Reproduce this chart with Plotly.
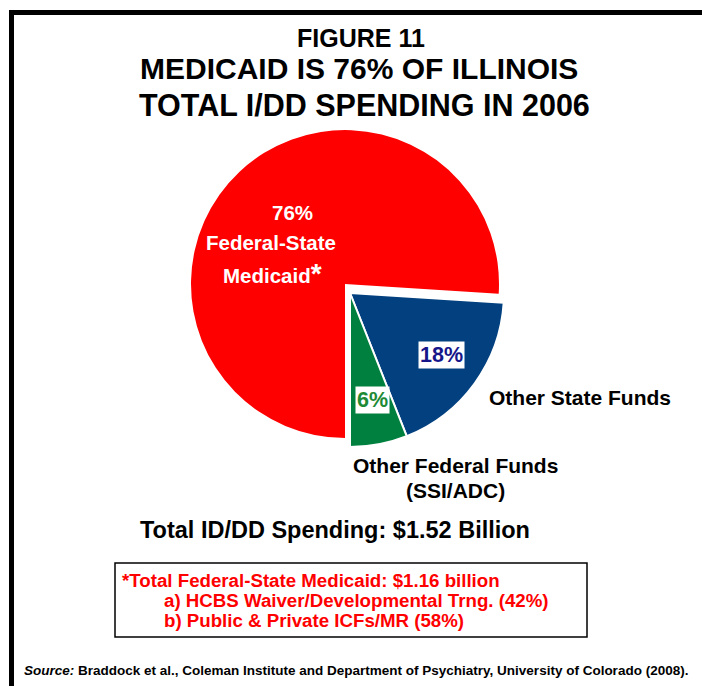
import plotly.graph_objects as go

W, H = 702, 686

# ---- data ----
slice_labels = ["Federal-State Medicaid", "Other State Funds", "Other Federal Funds (SSI/ADC)"]
slice_values = [76, 18, 6]
slice_colors = ["#FF0000", "#02407F", "#00803F"]
pct_labels = ["76%", "18%", "6%"]

title_lines = ["FIGURE 11", "MEDICAID IS 76% OF ILLINOIS", "TOTAL I/DD SPENDING IN 2006"]
total_text = "Total ID/DD Spending: $1.52 Billion"
note_lines = ["*Total Federal-State Medicaid: $1.16 billion",
              "a) HCBS Waiver/Developmental Trng. (42%)",
              "b) Public & Private ICFs/MR (58%)"]
source_text = ("<i>Source:</i> Braddock et al., Coleman Institute and Department of "
               "Psychiatry, University of Colorado (2008).")

FONT = "Liberation Sans, Arial, sans-serif"
CLEAR = "rgba(0,0,0,0)"


def px(x):
    return x / W


def py(y):
    return 1 - y / H


def dom(cx, cy, r):
    return dict(x=[px(cx - r), px(cx + r)], y=[py(cy + r), py(cy - r)])


R = 154
fig = go.Figure()
# main (Medicaid) slice
fig.add_trace(go.Pie(
    labels=slice_labels, values=slice_values, sort=False, direction="clockwise",
    rotation=180, textinfo="none", hoverinfo="label+percent",
    marker=dict(colors=[slice_colors[0], CLEAR, CLEAR], line=dict(width=0)),
    domain=dom(345, 284, R), showlegend=False,
))
# exploded group (other state + other federal)
fig.add_trace(go.Pie(
    labels=slice_labels, values=slice_values, sort=False, direction="clockwise",
    rotation=180, textinfo="none", hoverinfo="label+percent",
    marker=dict(colors=[CLEAR, slice_colors[1], slice_colors[2]],
                line=dict(color="white", width=[0, 2, 2])),
    domain=dom(350, 293, R), showlegend=False,
))

ann = []


def add(text, x, y, size, color="black", xanchor="center", bg=None, **kw):
    d = dict(text=text, x=px(x), y=py(y), xref="paper", yref="paper",
             xanchor=xanchor, yanchor="middle", showarrow=False,
             font=dict(family=FONT, size=size, color=color))
    if bg:
        d.update(bgcolor=bg, borderpad=1)
    d.update(kw)
    ann.append(d)


# titles
add("<b>%s</b>" % title_lines[0], 361, 38, 25)
add("<b>%s</b>" % title_lines[1], 359, 69, 30)
add("<b>%s</b>" % title_lines[2], 364, 105, 30.5)

# slice labels
add("<b>%s</b>" % pct_labels[0], 292, 212, 20.5, "white")
add("<b>Federal-State</b>", 271, 243, 20.5, "white")
add("<b>Medicaid<span style='font-size:28px'>*</span></b>", 272, 273, 20.5, "white")
add("<b>%s</b>" % pct_labels[1], 441, 355, 21.5, "#16168A", bg="white")
add("<b>%s</b>" % pct_labels[2], 372, 400, 21.5, "#1E8A35", bg="white")

add("<b>Other State Funds</b>", 487, 397, 21, xanchor="left")
add("<b>Other Federal Funds</b>", 455, 465, 21)
add("<b>(SSI/ADC)</b>", 455, 490, 21)

add("<b>%s</b>" % total_text, 335, 530, 23.5)

add("<b>%s</b>" % note_lines[0], 120, 580, 18.7, "#FF0000", xanchor="left")
add("<b>%s</b>" % note_lines[1], 162, 600, 18.7, "#FF0000", xanchor="left")
add("<b>%s</b>" % note_lines[2], 162, 620, 18.7, "#FF0000", xanchor="left")

add("<b>%s</b>" % source_text, 356, 670, 13.5)

shapes = [
    # frame (left + top)
    dict(type="line", xref="paper", yref="paper", x0=px(11.5), x1=px(11.5),
         y0=py(10), y1=py(H + 5), line=dict(color="black", width=5)),
    dict(type="line", xref="paper", yref="paper", x0=px(9), x1=px(W + 5),
         y0=py(12.5), y1=py(12.5), line=dict(color="black", width=5)),
    # note box
    dict(type="rect", xref="paper", yref="paper", x0=px(115), x1=px(587),
         y0=py(637), y1=py(563), line=dict(color="black", width=1.5)),
]

fig.update_layout(
    width=W, height=H, margin=dict(l=0, r=0, t=0, b=0),
    paper_bgcolor="white", plot_bgcolor="white",
    annotations=ann, shapes=shapes, showlegend=False,
)

fig.write_html("out.html")
